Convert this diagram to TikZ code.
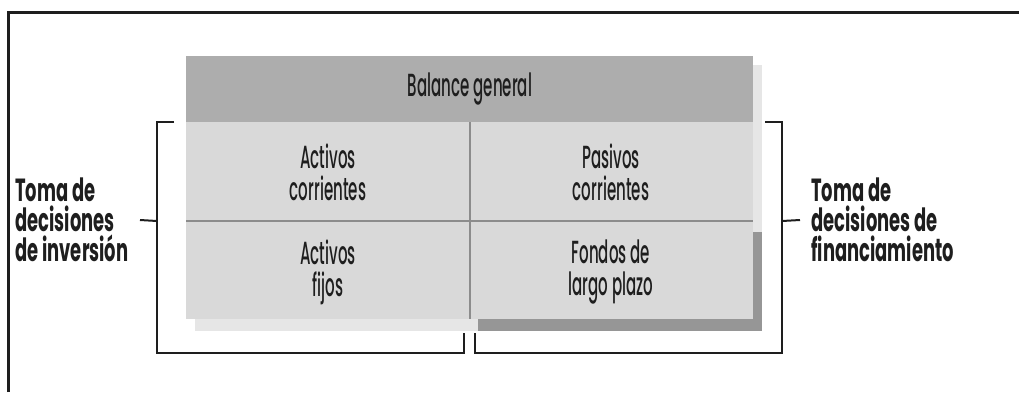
\documentclass[tikz,border=0pt]{standalone}
\usepackage{fontspec}
\newfontfamily\cellfont{Poppins Medium}[FakeStretch=0.47]
\newfontfamily\labelfont{Poppins}[FakeStretch=0.56]
\definecolor{headgray}{HTML}{ADADAD}
\definecolor{cellgray}{HTML}{D9D9D9}
\definecolor{lightshade}{HTML}{E6E6E6}
\definecolor{darkshade}{HTML}{969696}
\definecolor{rulegray}{HTML}{8C8C8C}
\definecolor{ink}{HTML}{1E1E1E}
\begin{document}
\begin{tikzpicture}[x=0.5pt,y=-0.5pt,
    cell/.style={align=center,text=ink,font=\cellfont\fontsize{16}{16}\selectfont},
    side/.style={align=left,anchor=west,inner sep=0pt,text=ink,font=\labelfont\bfseries\fontsize{16}{15}\selectfont},
    bracket/.style={draw=ink,line width=1pt}]
  \useasboundingbox (0,0) rectangle (1019,392);
  % frame
  \draw[ink,line width=1.5pt] (8,392) -- (8,12) -- (1019,12);
  % shadows
  \fill[lightshade] (195,65) rectangle (762,331);
  \fill[darkshade] (478,232) rectangle (762,331);
  % table
  \fill[headgray] (186,56) rectangle (753,122);
  \fill[cellgray] (186,122) rectangle (753,319);
  \draw[rulegray,line width=1pt] (470,122) -- (470,319) (186,221) -- (753,221);
  \path (470,89) node[cell] (BG) {Balance general};
  \path (328,172) node[cell] (AC) {Activos\\corrientes};
  \path (611,172) node[cell] (PC) {Pasivos\\corrientes};
  \path (328,272) node[cell] (AF) {Activos\\fijos};
  \path (611,272) node[cell] (FL) {Fondos de\\largo plazo};
  % labels
  \path (15,220) node[side] (INV) {Toma de\\decisiones\\de inversión};
  \path (811,220) node[side] (FIN) {Toma de\\decisiones de\\financiamiento};
  % brackets
  \coordinate (L1) at (174,122);
  \coordinate (L2) at (464,333);
  \coordinate (R1) at (765,122);
  \coordinate (R2) at (475,333);
  \draw[bracket] (L1) -- (157,122) -- (157,353) -- (464,353) -- (L2);
  \draw[bracket] (INV.east -| 140,0) -- (157,221);
  \draw[bracket] (R2) -- (475,353) -- (782,353) -- (782,122) -- (R1);
  \draw[bracket] (782,221) -- (FIN.west -| 800,0);
\end{tikzpicture}
\end{document}
